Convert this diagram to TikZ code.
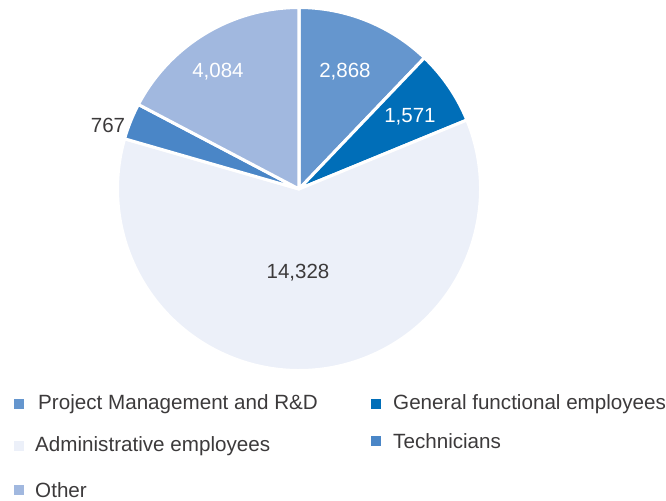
\documentclass[tikz,border=0pt]{standalone}
\usepackage{fontspec}
\setmainfont{Liberation Sans}
\usetikzlibrary{calc}

\definecolor{projblue}{HTML}{6596CE}
\definecolor{genblue}{HTML}{006EB8}
\definecolor{admblue}{HTML}{ECF0F9}
\definecolor{techblue}{HTML}{4A86C7}
\definecolor{othblue}{HTML}{A1B8DF}
\definecolor{txtgray}{HTML}{3C3A3B}

\tikzset{
  slicelab/.style={font=\fontsize{17.5}{20}\selectfont},
  legbox/.style={minimum size=8.5pt, inner sep=0pt},
  legtext/.style={anchor=west, inner sep=0pt, text=txtgray, font=\fontsize{17.6}{20}\selectfont}
}

\begin{document}
\begin{tikzpicture}[x=0.03cm,y=0.03cm]
\useasboundingbox (0,0) rectangle (666,501);
\coordinate (o) at (299,312);
\def\r{181.5}
\def\startang{90}
% total 23618, scaled down by 10 to stay in range
\foreach \n/\v/\c in {proj/2868/projblue, gen/1571/genblue, adm/14328/admblue, tech/767/techblue, oth/4084/othblue} {
  \pgfmathsetmacro{\endang}{\startang - \v/2361.8*36}
  \filldraw[fill=\c, draw=white, line width=2.6pt, line join=round]
    (o) -- ++(\startang:\r) arc[start angle=\startang, end angle=\endang, radius=\r] -- cycle;
  \xdef\startang{\endang}
}
% values
\node[slicelab, text=white] (v_proj) at (345,429) {2,868};
\node[slicelab, text=white] (v_gen) at (410,384) {1,571};
\node[slicelab, text=txtgray] (v_adm) at (298,228) {14,328};
\node[slicelab, text=txtgray] (v_tech) at (108,376) {767};
\node[slicelab, text=white] (v_oth) at (218,429) {4,084};
% legend
\node[legbox, fill=projblue] (k_proj) at (19,97) {};
\node[legtext] (t_proj) at (38,97) {Project Management and R\&D};
\node[legbox, fill=genblue] (k_gen) at (376,97) {};
\node[legtext] (t_gen) at (393,97) {General functional employees};
\node[legbox, fill=admblue] (k_adm) at (19,55) {};
\node[legtext] (t_adm) at (35,55) {Administrative employees};
\node[legbox, fill=techblue] (k_tech) at (376,60) {};
\node[legtext] (t_tech) at (393,60) {Technicians};
\node[legbox, fill=othblue] (k_oth) at (19,11) {};
\node[legtext] (t_oth) at (35,11) {Other};
\end{tikzpicture}
\end{document}
